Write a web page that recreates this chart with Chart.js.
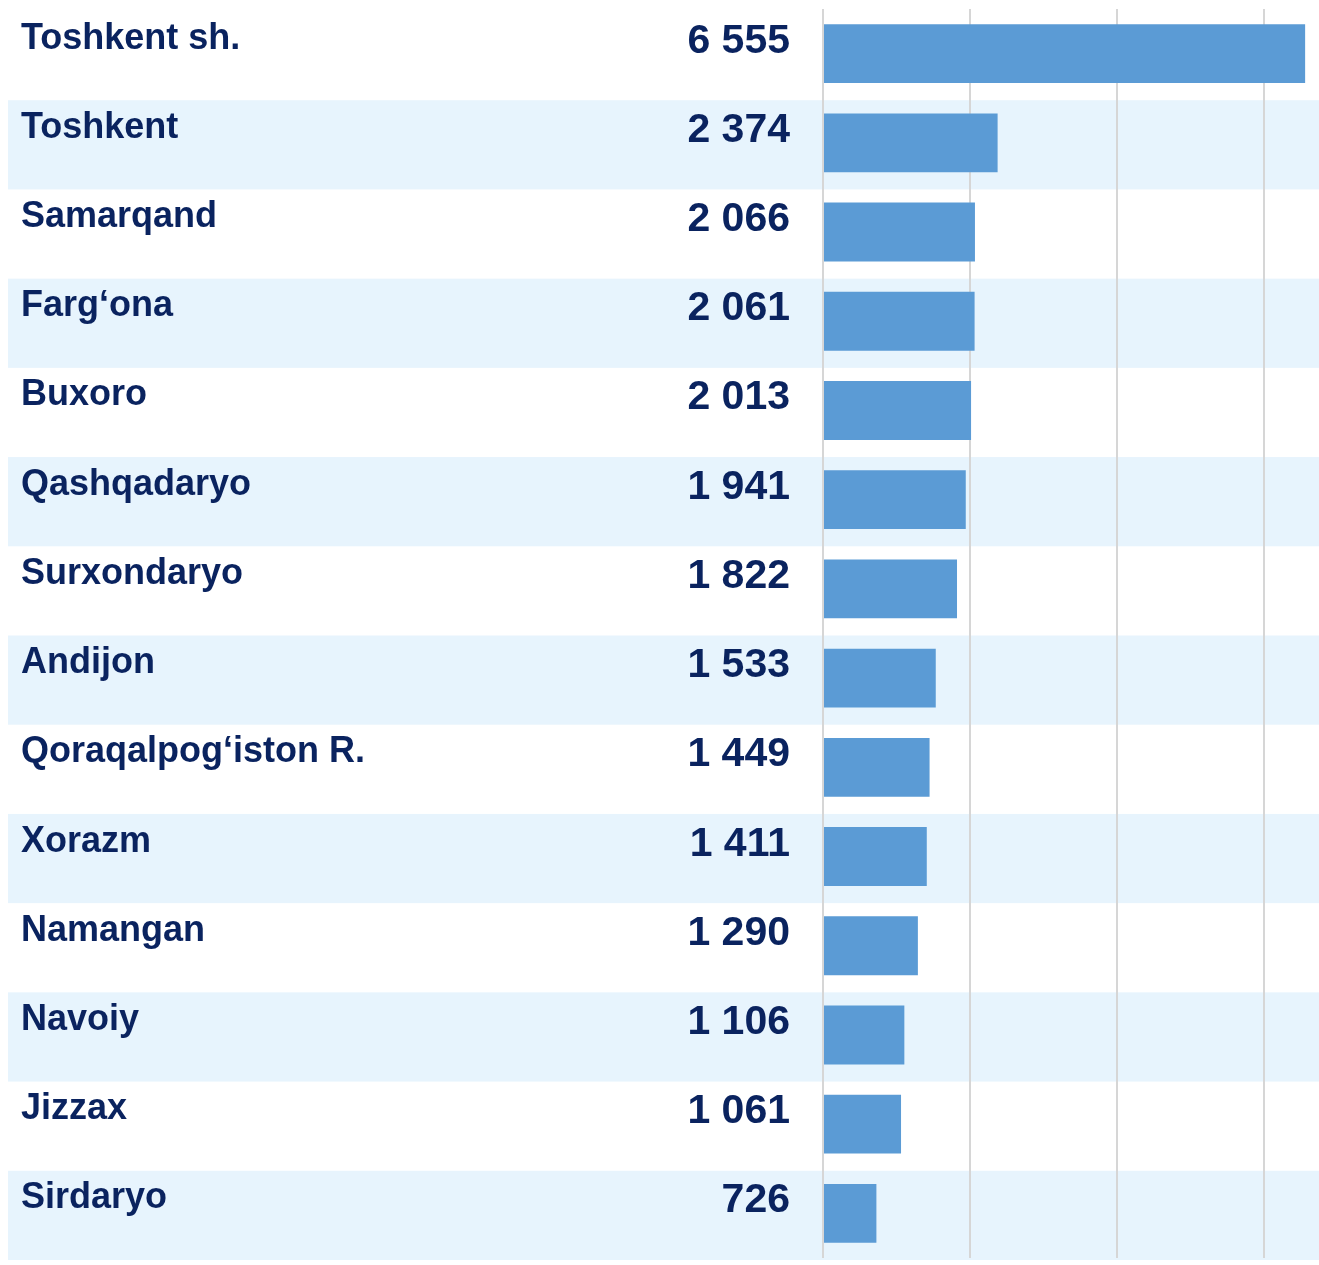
<!DOCTYPE html>
<html>
<head>
<meta charset="utf-8">
<script src="https://cdn.jsdelivr.net/npm/chart.js@4.4.1/dist/chart.umd.min.js"></script>
<style>
  html, body { margin: 0; padding: 0; background: #ffffff; }
  #wrap { width: 1319px; height: 1265px; position: relative; }
</style>
</head>
<body>
<div id="wrap"><canvas id="regionsChart"></canvas></div>
<script>
// Hududlar bo'yicha ko'rsatkichlar
const regions = [
    'Toshkent sh.', 'Toshkent', 'Samarqand', 'Farg\u2018ona', 'Buxoro',
    'Qashqadaryo', 'Surxondaryo', 'Andijon', 'Qoraqalpog\u2018iston R.',
    'Xorazm', 'Namangan', 'Navoiy', 'Jizzax', 'Sirdaryo'
];
const values = [6555, 2374, 2066, 2061, 2013, 1941, 1822, 1533, 1449, 1411, 1290, 1106, 1061, 726];
const valueLabels = ['6 555', '2 374', '2 066', '2 061', '2 013', '1 941', '1 822', '1 533', '1 449', '1 411', '1 290', '1 106', '1 061', '726'];
const gridTicks = [0, 2000, 4000, 6000];

const TEXT_COLOR = '#0a235f';
const BAR_COLOR = '#5b9bd5';
const BAND_COLOR = '#e7f4fd';

// Fon chiziqlari (har ikkinchi qator)
const bandsPlugin = {
    id: 'rowBands',
    beforeDraw(chart) {
        const ctx = chart.ctx;
        const y = chart.scales.y;
        const step = y.getPixelForValue(1) - y.getPixelForValue(0);
        ctx.save();
        ctx.fillStyle = BAND_COLOR;
        regions.forEach((r, i) => {
            if (i % 2 === 1) {
                const c = y.getPixelForValue(i);
                ctx.fillRect(8, c - step / 2 + 2, chart.width - 8, step);
            }
        });
        ctx.restore();
    }
};

// Nomlar va qiymatlar
const labelsPlugin = {
    id: 'rowLabels',
    afterDraw(chart) {
        const ctx = chart.ctx;
        const y = chart.scales.y;
        ctx.save();
        ctx.fillStyle = TEXT_COLOR;
        ctx.textBaseline = 'alphabetic';
        regions.forEach((r, i) => {
            const c = y.getPixelForValue(i);
            ctx.font = 'bold 36px "Liberation Sans", Arial, sans-serif';
            ctx.textAlign = 'left';
            ctx.fillText(r, 21, c - 5);
            ctx.font = 'bold 41px "Liberation Sans", Arial, sans-serif';
            ctx.textAlign = 'right';
            ctx.fillText(valueLabels[i], 790, c - 1);
        });
        ctx.restore();
    }
};

new Chart(document.getElementById('regionsChart'), {
    type: 'bar',
    data: {
        labels: regions,
        datasets: [{
            data: values,
            backgroundColor: BAR_COLOR,
            borderWidth: 0,
            barPercentage: 0.66,
            categoryPercentage: 1
        }]
    },
    options: {
        indexAxis: 'y',
        responsive: true,
        maintainAspectRatio: false,
        animation: false,
        layout: { padding: { left: 823, right: 1, top: 9, bottom: 7 } },
        plugins: {
            legend: { display: false },
            tooltip: { enabled: false }
        },
        scales: {
            x: {
                min: 0,
                max: 6730,
                afterBuildTicks: (axis) => {
                    axis.ticks = gridTicks.map(v => ({ value: v }));
                },
                ticks: { display: false },
                grid: { color: '#d6d6d6', lineWidth: 2, drawTicks: false },
                border: { display: false }
            },
            y: {
                display: false
            }
        }
    },
    plugins: [bandsPlugin, labelsPlugin]
});
</script>
</body>
</html>
